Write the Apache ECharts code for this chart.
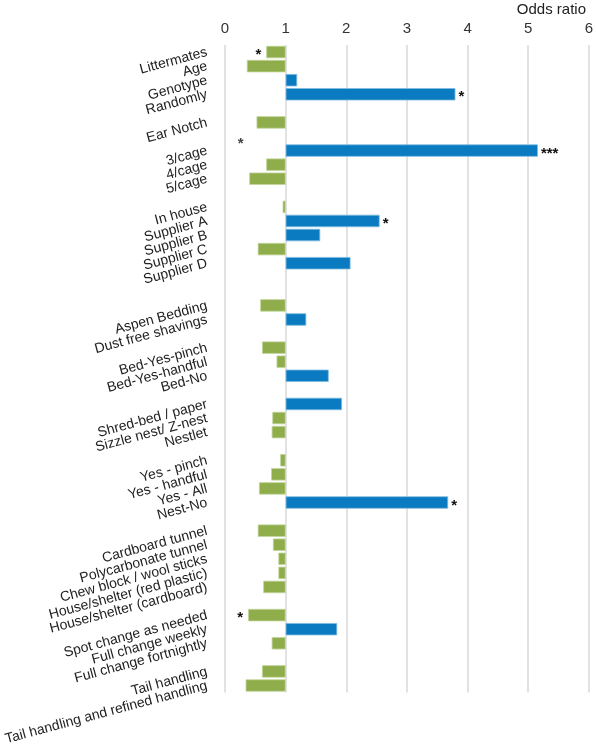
<!DOCTYPE html>
<html>
<head>
<meta charset="utf-8">
<script src="https://cdn.jsdelivr.net/npm/echarts@6/dist/echarts.min.js"></script>
<style>html,body{margin:0;padding:0;background:#fff}#c{width:596px;height:747px}</style>
</head>
<body>
<div id="c"></div>
<script>
const categories = ["Littermates","Age","Genotype","Randomly","_1","Ear Notch","_2","3/cage","4/cage","5/cage","_3","In house","Supplier A","Supplier B","Supplier C","Supplier D","_4","_5","Aspen Bedding","Dust free shavings","_6","Bed-Yes-pinch","Bed-Yes-handful","Bed-No","_7","Shred-bed / paper","Sizzle nest/ Z-nest","Nestlet","_8","Yes - pinch","Yes - handful","Yes - All","Nest-No","_9","Cardboard tunnel","Polycarbonate tunnel","Chew block / wool sticks","House/shelter (red plastic)","House/shelter (cardboard)","_10","Spot change as needed","Full change weekly","Full change fortnightly","_11","Tail handling","Tail handling and refined handling"];
const oddsRatio = [0.68,0.36,1.19,3.80,null,0.52,null,5.16,0.68,0.40,null,0.95,2.55,1.57,0.54,2.07,null,null,0.58,1.34,null,0.61,0.85,1.71,null,1.93,0.78,0.77,null,0.91,0.76,0.56,3.68,null,0.54,0.79,0.88,0.88,0.63,null,0.38,1.85,0.77,null,0.61,0.34];
const stars = {0:"*",3:"*",7:"***",12:"*",32:"*",40:"*"};
const orphanStar = {index: 6, value: 0.26, text: "*"};
const xTicks = [0,1,2,3,4,5,6];

const base = oddsRatio.map(v => v == null ? '-' : Math.min(v, 1));
const below = oddsRatio.map(v => v == null || v >= 1 ? '-' : +(1 - v).toFixed(4));
const above = oddsRatio.map(v => v == null || v <= 1 ? '-' : +(v - 1).toFixed(4));

const starLabel = (pos, dist) => ({
  show: true, position: pos, distance: dist,
  formatter: p => stars[p.dataIndex] || '',
  fontSize: 15, fontWeight: 'bold', color: '#111',
  fontFamily: 'Liberation Sans, Arial, sans-serif', offset: [0, 3]
});

const chart = echarts.init(document.getElementById('c'));
chart.setOption({
  animation: false,
  title: {
    text: 'Odds ratio', right: 5, top: -3,
    textStyle: {fontSize: 15, fontWeight: 'normal', color: '#222', fontFamily: 'Liberation Sans, Arial, sans-serif'}
  },
  grid: {left: 225, right: 4, top: 45, bottom: 52, containLabel: false},
  xAxis: {
    type: 'value', position: 'top', min: 0, max: 6, interval: 1,
    axisLine: {show: false}, axisTick: {show: false},
    axisLabel: {fontSize: 15, color: '#333', margin: 9, fontFamily: 'Liberation Sans, Arial, sans-serif',
      formatter: v => xTicks.includes(v) ? String(v) : ''},
    splitLine: {show: true, lineStyle: {color: '#d9d9d9', width: 1.5}}
  },
  yAxis: {
    type: 'category', data: categories, inverse: true,
    axisLine: {show: false}, axisTick: {show: false}, splitLine: {show: false},
    axisLabel: {rotate: 15, margin: 18, fontSize: 14, color: '#222', interval: 0,
      fontFamily: 'Liberation Sans, Arial, sans-serif',
      formatter: v => v.startsWith('_') ? '' : v}
  },
  series: [
    {type: 'bar', stack: 'or', data: base, barCategoryGap: '12%',
     itemStyle: {color: 'rgba(0,0,0,0)'}, silent: true},
    {type: 'bar', stack: 'or', data: below, barCategoryGap: '12%',
     itemStyle: {color: '#8fae4b', borderColor: '#c3d59c', borderWidth: 0.8},
     label: starLabel('left', 5)},
    {type: 'bar', stack: 'or', data: above, barCategoryGap: '12%',
     itemStyle: {color: '#0a7bc0', borderColor: '#7fbbe0', borderWidth: 0.8},
     label: starLabel('right', 3)},
    {type: 'scatter', symbolSize: 0, data: [[orphanStar.value, orphanStar.index]],
     label: {show: true, position: 'inside', formatter: orphanStar.text, fontSize: 15, fontWeight: 'bold',
       color: '#111', fontFamily: 'Liberation Sans, Arial, sans-serif', offset: [0, 7]}}
  ]
});
</script>
</body>
</html>
